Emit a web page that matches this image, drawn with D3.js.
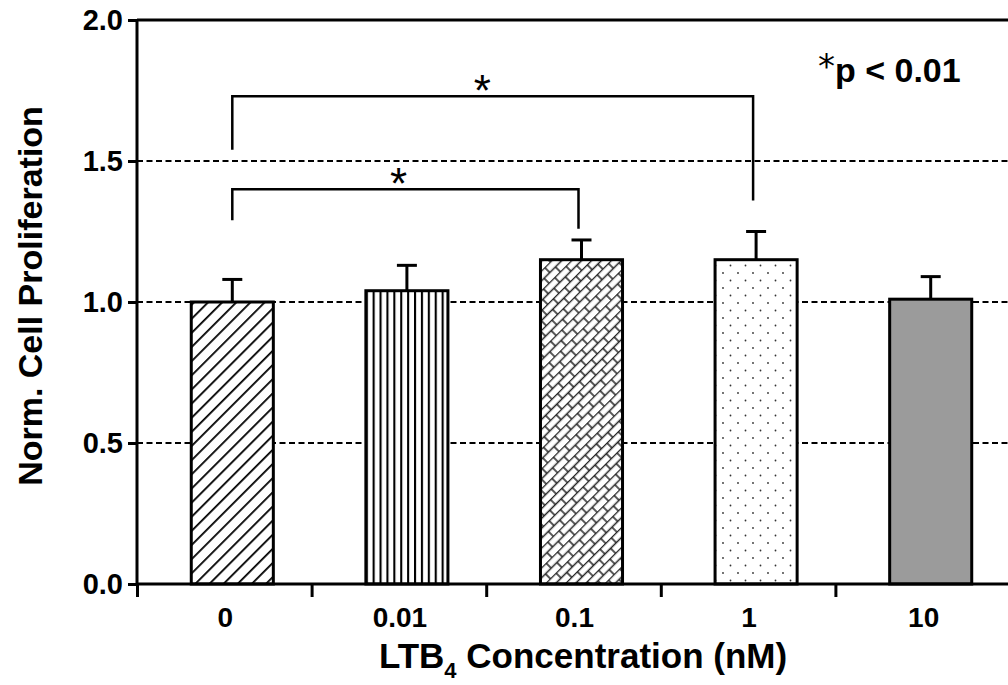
<!DOCTYPE html>
<html>
<head>
<meta charset="utf-8">
<script src="https://cdnjs.cloudflare.com/ajax/libs/d3/7.8.5/d3.min.js"></script>
<style>
  body { margin: 0; background: #fff; }
  text { font-family: "Liberation Sans", Arial, Helvetica, sans-serif; }
</style>
</head>
<body>
<div id="chart"></div>
<script>
// data
const categories = ['0', '0.01', '0.1', '1', '10'];
const means = [1.00, 1.04, 1.15, 1.15, 1.01];
const errTops = [1.08, 1.13, 1.22, 1.25, 1.09];
const yTicks = [0.0, 0.5, 1.0, 1.5, 2.0];
const gridVals = [0.5, 1.0, 1.5];
const fills = ['url(#diag)', 'url(#vert)', 'url(#brick)', 'url(#dots)', '#9b9b9b'];
// significance brackets
const brackets = [
    { from: '0', to: '0.1', level: 1.40, leftEnd: 1.29, rightEnd: 1.26 },
    { from: '0', to: '1', level: 1.73, leftEnd: 1.54, rightEnd: 1.36 }
];

const width = 1008, height = 685;
const margin = { left: 137, top: 20, right: -2, bottom: 101 };

const svg = d3.select('#chart').append('svg')
    .attr('width', width)
    .attr('height', height);

// fill patterns
const defs = svg.append('defs');
const diag = defs.append('pattern').attr('id', 'diag')
    .attr('patternUnits', 'userSpaceOnUse').attr('width', 10).attr('height', 10)
    .attr('patternTransform', 'rotate(45)');
diag.append('rect').attr('width', 10).attr('height', 10).attr('fill', '#fff');
diag.append('line').attr('x1', 0).attr('y1', 0).attr('x2', 0).attr('y2', 10)
    .attr('stroke', '#000').attr('stroke-width', 3.6);

const vert = defs.append('pattern').attr('id', 'vert')
    .attr('patternUnits', 'userSpaceOnUse').attr('width', 6.9).attr('height', 10);
vert.append('rect').attr('width', 6.9).attr('height', 10).attr('fill', '#fff');
vert.append('line').attr('x1', 1).attr('y1', 0).attr('x2', 1).attr('y2', 10)
    .attr('stroke', '#000').attr('stroke-width', 2.2);

const brick = defs.append('pattern').attr('id', 'brick')
    .attr('patternUnits', 'userSpaceOnUse').attr('width', 16).attr('height', 14)
    .attr('patternTransform', 'rotate(-45)');
brick.append('rect').attr('width', 16).attr('height', 14).attr('fill', '#fff');
brick.append('path')
    .attr('d', 'M0,0.5H16M0,7.5H16M4,0.5V7.5M12,7.5V14')
    .attr('stroke', '#222').attr('stroke-width', 1.5).attr('fill', 'none');

const dots = defs.append('pattern').attr('id', 'dots')
    .attr('patternUnits', 'userSpaceOnUse').attr('width', 15).attr('height', 15);
dots.append('rect').attr('width', 15).attr('height', 15).attr('fill', '#fff');
dots.append('circle').attr('cx', 3).attr('cy', 3).attr('r', 0.9).attr('fill', '#333');
dots.append('circle').attr('cx', 10.5).attr('cy', 10.5).attr('r', 0.9).attr('fill', '#333');

// scales
const x = d3.scaleBand()
    .domain(categories)
    .range([margin.left, width - margin.right])
    .padding(0);
const xEdge = d3.scaleLinear()
    .domain([0, categories.length])
    .range([margin.left, width - margin.right]);
const y = d3.scaleLinear()
    .domain([0, 2])
    .range([height - margin.bottom, margin.top]);

const barW = x.bandwidth() * 0.47;
const barShift = 8; // bars sit a little right of the band centre in the original
const cx = d => x(d) + x.bandwidth() / 2 + barShift;

// dashed grid
svg.append('g')
    .selectAll('line')
    .data(gridVals)
    .join('line')
    .attr('x1', margin.left).attr('x2', width)
    .attr('y1', d => y(d)).attr('y2', d => y(d))
    .attr('stroke', '#000')
    .attr('stroke-width', 2.2)
    .attr('stroke-dasharray', '6,3.5');

// error bars (upper only)
const err = svg.append('g').attr('stroke', '#000').attr('stroke-width', 3);
categories.forEach((c, i) => {
    err.append('line')
        .attr('x1', cx(c)).attr('x2', cx(c))
        .attr('y1', y(means[i])).attr('y2', y(errTops[i]));
    err.append('line')
        .attr('x1', cx(c) - 10).attr('x2', cx(c) + 10)
        .attr('y1', y(errTops[i])).attr('y2', y(errTops[i]));
});

// bars
svg.append('g')
    .selectAll('rect')
    .data(categories)
    .join('rect')
    .attr('x', d => cx(d) - barW / 2)
    .attr('y', (d, i) => y(means[i]))
    .attr('width', barW)
    .attr('height', (d, i) => y(0) - y(means[i]))
    .attr('fill', (d, i) => fills[i])
    .attr('stroke', '#000')
    .attr('stroke-width', 3);

// top frame
svg.append('line')
    .attr('x1', margin.left).attr('x2', width)
    .attr('y1', y(2)).attr('y2', y(2))
    .attr('stroke', '#000').attr('stroke-width', 3);

// axes
const yAxis = svg.append('g')
    .attr('transform', `translate(${margin.left},0)`)
    .call(d3.axisLeft(y).tickValues(yTicks).tickFormat(d3.format('.1f')).tickSize(9).tickPadding(5));
const xAxis = svg.append('g')
    .attr('transform', `translate(0,${y(0)})`)
    .call(d3.axisBottom(xEdge).ticks(categories.length).tickFormat('').tickSize(13));
[yAxis, xAxis].forEach(g => {
    g.select('.domain').attr('stroke-width', 3);
    g.selectAll('.tick line').attr('stroke-width', 3);
});
xAxis.select('.domain').attr('d', `M${margin.left},0H${width}`);
yAxis.select('.domain').attr('d', `M0,${y(0) + 2}V${y(2)}`);
yAxis.selectAll('.tick text')
    .attr('font-size', 29).attr('font-weight', 'bold').attr('fill', '#000')
    .attr('font-family', '"Liberation Sans", Arial, sans-serif');

// x category labels
svg.append('g')
    .selectAll('text')
    .data(categories)
    .join('text')
    .attr('x', d => cx(d) - 7)
    .attr('y', 627)
    .attr('text-anchor', 'middle')
    .attr('font-size', 28)
    .attr('font-weight', 'bold')
    .text(d => d);

// axis titles
const xt = svg.append('text')
    .attr('x', 583).attr('y', 668)
    .attr('text-anchor', 'middle')
    .attr('font-size', 35).attr('font-weight', 'bold');
xt.append('tspan').text('LTB');
xt.append('tspan').attr('font-size', 22).attr('dy', 10).text('4');
xt.append('tspan').attr('dy', -10).text(' Concentration (nM)');

svg.append('text')
    .attr('transform', `translate(42,296) rotate(-90)`)
    .attr('text-anchor', 'middle')
    .attr('font-size', 34).attr('font-weight', 'bold')
    .text('Norm. Cell Proliferation');

// significance brackets
const br = svg.append('g');
brackets.forEach(b => {
    const x1 = cx(b.from), x2 = cx(b.to) - 3;
    br.append('path')
        .attr('d', `M${x1},${y(b.leftEnd)}V${y(b.level)}H${x2}V${y(b.rightEnd)}`)
        .attr('fill', 'none').attr('stroke', '#000').attr('stroke-width', 2.5);
    br.append('text')
        .attr('x', x1 + (x2 - x1) * 0.48).attr('y', y(b.level) + 10)
        .attr('text-anchor', 'middle')
        .attr('font-size', 44)
        .attr('font-family', '"DejaVu Sans", sans-serif')
        .text('*');
});

// legend note
const note = svg.append('text')
    .attr('x', 818).attr('y', 82)
    .attr('font-size', 34).attr('font-weight', 'bold');
note.append('tspan').attr('font-size', 34).attr('dy', -4)
    .attr('font-family', '"DejaVu Sans", sans-serif').attr('font-weight', 'normal').text('*');
note.append('tspan').attr('dy', 4).text('p < 0.01');
</script>
</body>
</html>
